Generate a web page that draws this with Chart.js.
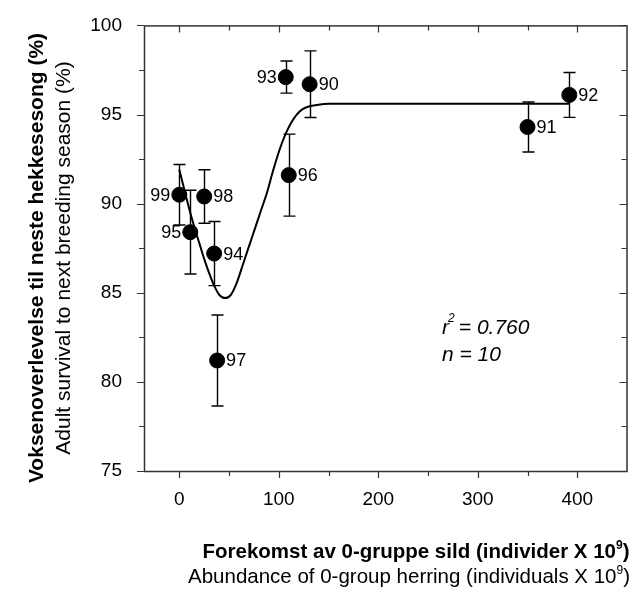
<!DOCTYPE html>
<html>
<head>
<meta charset="utf-8">
<script src="https://cdn.jsdelivr.net/npm/chart.js@4.4.1/dist/chart.umd.min.js"></script>
<style>
  html, body { margin: 0; background: #fff; }
  #wrap { width: 634px; height: 610px; position: relative; }
</style>
</head>
<body>
<div id="wrap"><canvas id="chart"></canvas></div>
<script>
(function () {
  'use strict';

  // Data
  var years    = ['99', '95', '98', '94', '97', '93', '96', '90', '91', '92'];
  var herring  = [0, 11, 25, 35, 38, 107, 110, 131, 350, 392];
  var survival = [90.5, 88.4, 90.4, 87.2, 81.2, 97.1, 91.6, 96.7, 94.3, 96.1];
  var errors   = [1.7, 2.35, 1.5, 1.8, 2.55, 0.9, 2.3, 1.87, 1.4, 1.26];
  var labelLeft = [true, true, false, false, false, true, false, false, false, false];

  // Fitted curve
  var curveX = [0, 5, 10, 15, 20, 25, 30, 35, 40, 46, 52, 58, 64, 70, 76, 82, 88, 94, 100, 106, 112, 118, 124, 130, 140, 150, 200, 250, 300, 350, 392];
  var curveY = [91.9, 90.8, 89.7, 88.7, 87.8, 86.9, 86.1, 85.4, 84.9, 84.7, 84.9, 85.6, 86.6, 87.6, 88.6, 89.6, 90.6, 91.8, 92.9, 93.8, 94.5, 95.0, 95.3, 95.45, 95.55, 95.6, 95.6, 95.6, 95.6, 95.6, 95.6];

  var xTicks = [0, 50, 100, 150, 200, 250, 300, 350, 400];
  var yTicks = [75, 77.5, 80, 82.5, 85, 87.5, 90, 92.5, 95, 97.5, 100];

  var FONT = "'Liberation Sans Narrow', 'Arial Narrow', 'Liberation Sans', Arial, sans-serif";
  var INK = '#000';
  var AXIS = '#333';

  function pts(xs, ys) {
    return xs.map(function (x, i) { return { x: x, y: ys[i] }; });
  }

  // Error bars under the dots
  var errorBars = {
    id: 'errorBars',
    beforeDatasetsDraw: function (chart) {
      var ctx = chart.ctx, xs = chart.scales.x, ys = chart.scales.y;
      ctx.save();
      ctx.strokeStyle = INK;
      ctx.lineWidth = 1.4;
      herring.forEach(function (h, i) {
        var px = Math.round(xs.getPixelForValue(h)) + 0.5;
        var top = ys.getPixelForValue(survival[i] + errors[i]);
        var bot = ys.getPixelForValue(survival[i] - errors[i]);
        ctx.beginPath();
        ctx.moveTo(px, top); ctx.lineTo(px, bot);
        ctx.moveTo(px - 6, top); ctx.lineTo(px + 6, top);
        ctx.moveTo(px - 6, bot); ctx.lineTo(px + 6, bot);
        ctx.stroke();
      });
      ctx.restore();
    }
  };

  // Year labels, frame, ticks, titles and the fit note
  var decorations = {
    id: 'decorations',
    afterDraw: function (chart) {
      var ctx = chart.ctx, a = chart.chartArea;
      var xs = chart.scales.x, ys = chart.scales.y;
      ctx.save();

      // year labels
      ctx.fillStyle = INK;
      ctx.font = '18px ' + FONT;
      ctx.textBaseline = 'middle';
      herring.forEach(function (h, i) {
        var px = xs.getPixelForValue(h), py = ys.getPixelForValue(survival[i]) + 1;
        if (labelLeft[i]) { ctx.textAlign = 'right'; ctx.fillText(years[i], px - 9, py); }
        else { ctx.textAlign = 'left'; ctx.fillText(years[i], px + 9, py); }
      });

      // frame (right side falls just outside the picture)
      var right = a.right + 1;
      ctx.strokeStyle = AXIS;
      ctx.lineWidth = 1.5;
      ctx.strokeRect(a.left + 0.5, a.top + 0.5, right - a.left, a.bottom - a.top);

      // ticks: outward on left/bottom, inward on top/right
      ctx.lineWidth = 1.2;
      ctx.beginPath();
      xTicks.forEach(function (v) {
        var px = Math.round(xs.getPixelForValue(v)) + 0.5;
        var len = v % 100 === 0 ? 7 : 5;
        ctx.moveTo(px, a.bottom); ctx.lineTo(px, a.bottom + len);
        ctx.moveTo(px, a.top); ctx.lineTo(px, a.top + len);
      });
      yTicks.forEach(function (v) {
        var py = Math.round(ys.getPixelForValue(v)) + 0.5;
        var len = v % 5 === 0 ? 7 : 5;
        ctx.moveTo(a.left, py); ctx.lineTo(a.left - len, py);
        ctx.moveTo(right, py); ctx.lineTo(right - len, py);
      });
      ctx.stroke();

      // x axis titles
      ctx.fillStyle = INK;
      ctx.textAlign = 'left';
      ctx.textBaseline = 'alphabetic';
      function withSup(text, sup, tail, cx, y, weight, size) {
        ctx.font = weight + ' ' + size + 'px ' + FONT;
        var w1 = ctx.measureText(text).width;
        var w3 = ctx.measureText(tail).width;
        ctx.font = weight + ' 12px ' + FONT;
        var w2 = ctx.measureText(sup).width;
        var x0 = cx - (w1 + w2 + w3) / 2;
        ctx.font = weight + ' ' + size + 'px ' + FONT;
        ctx.fillText(text, x0, y);
        ctx.fillText(tail, x0 + w1 + w2, y);
        ctx.font = weight + ' 12px ' + FONT;
        ctx.fillText(sup, x0 + w1, y - 9);
      }
      withSup('Forekomst av 0-gruppe sild (individer X 10', '9', ')', 416, 558, 'bold', 20.5);
      withSup('Abundance of 0-group herring (individuals X 10', '9', ')', 409, 583, 'normal', 20.5);

      // y axis titles
      ctx.save();
      ctx.translate(0, 258);
      ctx.rotate(-Math.PI / 2);
      ctx.textAlign = 'center';
      ctx.textBaseline = 'middle';
      ctx.font = 'bold 21px ' + FONT;
      ctx.fillText('Voksenoverlevelse til neste hekkesesong (%)', 0, 37);
      ctx.font = '21px ' + FONT;
      ctx.fillText('Adult survival to next breeding season (%)', 0, 64);
      ctx.restore();

      // fit note
      var nx = xs.getPixelForValue(264), ny = ys.getPixelForValue(82.7);
      ctx.textAlign = 'left';
      ctx.textBaseline = 'alphabetic';
      ctx.font = 'italic 21px ' + FONT;
      ctx.fillText('r', nx, ny);
      var rw = ctx.measureText('r').width;
      ctx.font = 'italic 12px ' + FONT;
      ctx.fillText('2', nx + rw - 1, ny - 12);
      ctx.font = 'italic 21px ' + FONT;
      ctx.fillText(' = 0.760', nx + rw + 4, ny);
      ctx.fillText('n = 10', nx, ny + 27);

      ctx.restore();
    }
  };

  new Chart(document.getElementById('chart'), {
    type: 'scatter',
    data: {
      datasets: [{
        label: 'fit',
        data: pts(curveX, curveY),
        showLine: true,
        borderColor: INK,
        borderWidth: 2,
        pointRadius: 0,
        cubicInterpolationMode: 'monotone',
        order: 2
      }, {
        label: 'survival',
        data: pts(herring, survival),
        backgroundColor: INK,
        borderColor: INK,
        pointRadius: 7.5,
        order: 1
      }]
    },
    options: {
      responsive: true,
      maintainAspectRatio: false,
      animation: false,
      layout: { padding: { top: 17, right: 0, left: 0, bottom: 0 } },
      plugins: { legend: { display: false }, tooltip: { enabled: false } },
      scales: {
        x: {
          type: 'linear',
          min: -35.5,
          max: 448.5,
          afterBuildTicks: function (s) { s.ticks = xTicks.map(function (v) { return { value: v }; }); },
          afterFit: function (s) { s.height = 139; },
          grid: { display: false },
          border: { display: false },
          ticks: {
            color: INK,
            font: { size: 19, family: FONT },
            padding: 9,
            callback: function (v) { return v % 100 === 0 ? v : ''; }
          }
        },
        y: {
          min: 75,
          max: 100,
          afterBuildTicks: function (s) { s.ticks = yTicks.map(function (v) { return { value: v }; }); },
          afterFit: function (s) { s.width = 144; },
          grid: { display: false },
          border: { display: false },
          ticks: {
            color: INK,
            font: { size: 19, family: FONT },
            padding: 14,
            callback: function (v) { return v % 5 === 0 ? v : ''; }
          }
        }
      }
    },
    plugins: [errorBars, decorations]
  });
})();
</script>
</body>
</html>
